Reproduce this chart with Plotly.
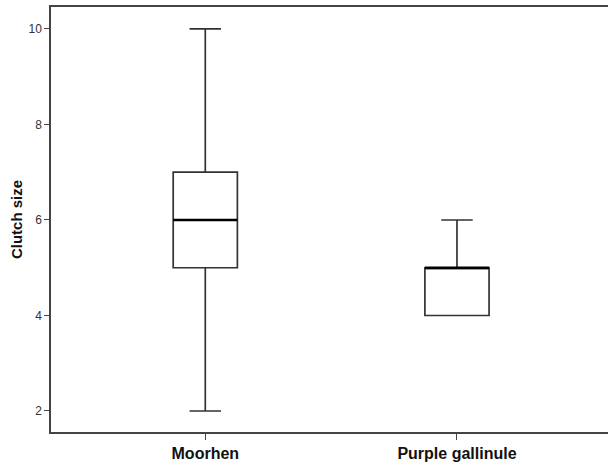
import plotly.graph_objects as go

categories = ["Moorhen", "Purple gallinule"]
positions = [0, 1]
lower_whisker = [2, 4]
q1_values = [5, 4]
medians = [6, 5]
q3_values = [7, 5]
upper_whisker = [10, 6]
y_ticks = [2, 4, 6, 8, 10]

BOX_W = 0.255
fig = go.Figure()
for i, name in enumerate(categories):
    fig.add_trace(go.Box(
        x=[positions[i]], q1=[q1_values[i]], median=[medians[i]], q3=[q3_values[i]],
        lowerfence=[lower_whisker[i]], upperfence=[upper_whisker[i]],
        width=BOX_W, whiskerwidth=0.49, boxpoints=False,
        fillcolor="white", line=dict(color="#333333", width=1.7),
        name=name, showlegend=False, hoverinfo="skip",
    ))
    fig.add_trace(go.Scatter(
        x=[positions[i] - BOX_W / 2, positions[i] + BOX_W / 2],
        y=[medians[i], medians[i]], mode="lines",
        line=dict(color="black", width=2.6), showlegend=False, hoverinfo="skip",
    ))

fig.update_layout(
    width=608, height=465,
    margin=dict(l=51, r=0, t=7, b=33),
    plot_bgcolor="white", paper_bgcolor="white",
    font=dict(family="Liberation Sans, Arial, sans-serif", color="#222"),
)
fig.update_xaxes(
    range=[-0.613, 1.6], tickvals=positions, ticktext=[f"<b>{c}</b>" for c in categories],
    ticks="outside", ticklen=6, tickcolor="#444", tickwidth=1,
    showline=True, linecolor="#444", linewidth=1.5, mirror=True,
    showgrid=False, zeroline=False, tickfont=dict(size=16, color="#111"),
)
fig.update_yaxes(
    range=[1.56, 10.46], tickvals=y_ticks,
    ticks="outside", ticklen=5, tickcolor="#444", tickwidth=1,
    showline=True, linecolor="#444", linewidth=1.5, mirror=False,
    showgrid=False, zeroline=False, tickfont=dict(size=12, color="#333"),
    title=dict(text="<b>Clutch size</b>", font=dict(size=15, color="#111"), standoff=2),
)
fig.write_html("out.html")
